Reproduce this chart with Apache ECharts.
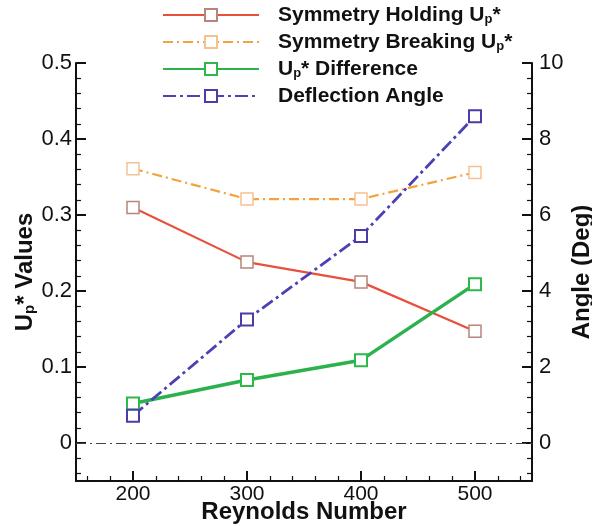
<!DOCTYPE html>
<html>
<head>
<meta charset="utf-8">
<script src="https://cdn.jsdelivr.net/npm/echarts@6/dist/echarts.min.js"></script>
<style>html,body{margin:0;padding:0;background:#fff}#c{width:592px;height:526px}</style>
</head>
<body>
<div id="c"></div>
<script>
const reynolds = [200, 300, 400, 500];
const holding = [0.31, 0.238, 0.212, 0.147];
const breaking = [0.361, 0.321, 0.321, 0.356];
const difference = [0.052, 0.083, 0.109, 0.209];
const angle = [0.72, 3.25, 5.45, 8.6];

const xMajor = [200, 300, 400, 500];
const xMinor = [160, 180, 220, 240, 260, 280, 320, 340, 360, 380, 420, 440, 460, 480, 520, 540];
const leftMajor = [0, 0.1, 0.2, 0.3, 0.4, 0.5];
const leftMinor = [-0.04, -0.02, 0.02, 0.04, 0.06, 0.08, 0.12, 0.14, 0.16, 0.18, 0.22, 0.24, 0.26, 0.28, 0.32, 0.34, 0.36, 0.38, 0.42, 0.44, 0.46, 0.48];
const rightMajor = [0, 2, 4, 6, 8, 10];
const rightMinor = [-0.8, -0.4, 0.4, 0.8, 1.2, 1.6, 2.4, 2.8, 3.2, 3.6, 4.4, 4.8, 5.2, 5.6, 6.4, 6.8, 7.2, 7.6, 8.4, 8.8, 9.2, 9.6];

const names = ['Symmetry Holding Up*', 'Symmetry Breaking Up*', 'Up* Difference', 'Deflection Angle'];
const richNames = {
  'Symmetry Holding Up*': 'Symmetry Holding U{sub|p}*',
  'Symmetry Breaking Up*': 'Symmetry Breaking U{sub|p}*',
  'Up* Difference': 'U{sub|p}* Difference',
  'Deflection Angle': 'Deflection Angle'
};

const FONT = 'Liberation Sans, Arial, sans-serif';
const pair = (ys) => reynolds.map((x, i) => [x, ys[i]]);

const chart = echarts.init(document.getElementById('c'));
const axisLine = { show: true, onZero: false, lineStyle: { color: '#111', width: 2 } };
const subRich = { fontSize: 13, fontWeight: 'bold', fontFamily: FONT, color: '#111', lineHeight: 6, verticalAlign: 'bottom' };

chart.setOption({
  animation: false,
  backgroundColor: '#fff',
  grid: { left: 76, right: 60, top: 63, bottom: 45, outerBoundsMode: 'none' },
  legend: {
    orient: 'vertical',
    left: 162,
    top: 4,
    padding: 0,
    itemWidth: 96,
    itemHeight: 15,
    itemGap: 5,
    data: names,
    formatter: (n) => richNames[n],
    textStyle: {
      fontFamily: FONT, fontSize: 21, fontWeight: 'bold', color: '#111',
      lineHeight: 22, padding: [0, 0, 0, 14],
      rich: { sub: subRich }
    }
  },
  xAxis: [
    {
      type: 'value', min: 150, max: 550, position: 'bottom',
      axisLine: axisLine,
      axisTick: { show: true, inside: true, length: 10, customValues: xMajor, lineStyle: { color: '#111', width: 2 } },
      axisLabel: { customValues: xMajor, fontFamily: FONT, fontSize: 21, color: '#111', margin: 3 },
      splitLine: { show: false },
      name: 'Reynolds Number', nameLocation: 'middle', nameGap: 19, nameMoveOverlap: false,
      nameTextStyle: { fontFamily: FONT, fontSize: 24, fontWeight: 'bold', color: '#111' }
    },
    {
      type: 'value', min: 150, max: 550, position: 'bottom',
      axisLine: { show: false, onZero: false },
      axisTick: { show: true, inside: true, length: 5, customValues: xMinor, lineStyle: { color: '#111', width: 1.2 } },
      axisLabel: { show: false },
      splitLine: { show: false }
    }
  ],
  yAxis: [
    {
      type: 'value', min: -0.05, max: 0.5, position: 'left',
      axisLine: axisLine,
      axisTick: { show: true, inside: true, length: 10, customValues: leftMajor, lineStyle: { color: '#111', width: 2 } },
      axisLabel: { customValues: leftMajor, fontFamily: FONT, fontSize: 22, color: '#111', margin: 4,
        formatter: (v) => String(Math.round(v * 10) / 10) },
      splitLine: { show: false },
      name: 'U{sub|p}* Values', nameLocation: 'middle', nameRotate: 90, nameGap: 39, nameMoveOverlap: false,
      nameTextStyle: { fontFamily: FONT, fontSize: 24, fontWeight: 'bold', color: '#111', lineHeight: 24,
        rich: { sub: { fontSize: 15, fontWeight: 'bold', fontFamily: FONT, color: '#111', lineHeight: 6, verticalAlign: 'bottom' } } }
    },
    {
      type: 'value', min: -1, max: 10, position: 'right',
      axisLine: axisLine,
      axisTick: { show: true, inside: true, length: 10, customValues: rightMajor, lineStyle: { color: '#111', width: 2 } },
      axisLabel: { customValues: rightMajor, fontFamily: FONT, fontSize: 22, color: '#111', margin: 7 },
      splitLine: { show: false },
      name: 'Angle (Deg)', nameLocation: 'middle', nameRotate: 90, nameGap: 38, nameMoveOverlap: false,
      nameTextStyle: { fontFamily: FONT, fontSize: 24, fontWeight: 'bold', color: '#111' }
    },
    {
      type: 'value', min: -0.05, max: 0.5, position: 'left',
      axisLine: { show: false, onZero: false },
      axisTick: { show: true, inside: true, length: 5, customValues: leftMinor, lineStyle: { color: '#111', width: 1.2 } },
      axisLabel: { show: false },
      splitLine: { show: false }
    },
    {
      type: 'value', min: -1, max: 10, position: 'right',
      axisLine: { show: false, onZero: false },
      axisTick: { show: true, inside: true, length: 5, customValues: rightMinor, lineStyle: { color: '#111', width: 1.2 } },
      axisLabel: { show: false },
      splitLine: { show: false }
    }
  ],
  series: [
    {
      name: names[0], type: 'line', xAxisIndex: 0, yAxisIndex: 0, data: pair(holding),
      symbol: 'rect', symbolSize: 12,
      lineStyle: { color: '#e8503c', width: 2.2 },
      itemStyle: { color: '#fff', borderColor: '#b8847c', borderWidth: 1.5 },
      markLine: {
        silent: true, symbol: 'none', label: { show: false },
        lineStyle: { color: '#444', width: 1.2, type: [10, 4, 2, 4] },
        data: [{ yAxis: 0 }]
      }
    },
    {
      name: names[1], type: 'line', xAxisIndex: 0, yAxisIndex: 0, data: pair(breaking),
      symbol: 'rect', symbolSize: 12,
      lineStyle: { color: '#f4a23e', width: 2.2, type: [10, 4, 2, 4] },
      itemStyle: { color: '#fff', borderColor: '#f6c190', borderWidth: 1.5 }
    },
    {
      name: names[2], type: 'line', xAxisIndex: 0, yAxisIndex: 0, data: pair(difference),
      symbol: 'rect', symbolSize: 12,
      lineStyle: { color: '#2bb24c', width: 3.5 },
      itemStyle: { color: '#fff', borderColor: '#2db84a', borderWidth: 2 }
    },
    {
      name: names[3], type: 'line', xAxisIndex: 0, yAxisIndex: 1, data: pair(angle),
      symbol: 'rect', symbolSize: 12,
      lineStyle: { color: '#4a42b4', width: 2.8, type: [13, 4, 3, 4] },
      itemStyle: { color: '#fff', borderColor: '#4b3ca8', borderWidth: 2 }
    }
  ]
});
</script>
</body>
</html>
